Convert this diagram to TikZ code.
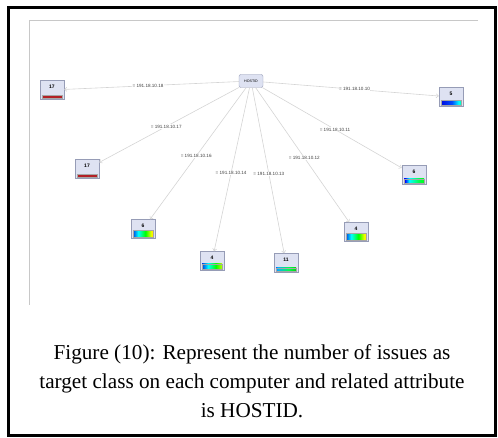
\documentclass[tikz,border=0pt]{standalone}
\usepackage{fontspec}
\setmainfont{Liberation Serif}
\newfontfamily\guifont{Liberation Sans}
\usetikzlibrary{arrows.meta}
\definecolor{boxfill}{RGB}{222,226,242}
\definecolor{boxline}{RGB}{150,156,182}
\definecolor{edgegray}{RGB}{212,212,212}
\definecolor{shotgray}{RGB}{200,200,200}
\definecolor{barred}{RGB}{178,32,38}
% colour bars of the leaf boxes
\pgfdeclarehorizontalshading{barred}{100bp}{color(0bp)=(barred); color(100bp)=(barred)}
\pgfdeclarehorizontalshading{barA}{100bp}{color(0bp)=(blue); color(25bp)=(blue!85!black); color(40bp)=(cyan); color(55bp)=(green); color(68bp)=(yellow); color(75bp)=(orange); color(100bp)=(orange)}
\pgfdeclarehorizontalshading{barB}{100bp}{color(0bp)=(blue); color(25bp)=(blue!85!black); color(42bp)=(cyan); color(58bp)=(green); color(75bp)=(yellow); color(100bp)=(yellow)}
\pgfdeclarehorizontalshading{barC}{100bp}{color(0bp)=(blue); color(25bp)=(blue); color(32bp)=(cyan!70!blue); color(55bp)=(green!70!cyan); color(75bp)=(green!80!black); color(100bp)=(green!80!black)}
\pgfdeclarehorizontalshading{barD}{100bp}{color(0bp)=(blue); color(25bp)=(blue); color(31bp)=(blue); color(40bp)=(cyan); color(60bp)=(green!70!cyan); color(75bp)=(green); color(100bp)=(green)}
\pgfdeclarehorizontalshading{barE}{100bp}{color(0bp)=(blue); color(25bp)=(blue!85!black); color(52bp)=(blue!70!cyan); color(66bp)=(cyan); color(75bp)=(green!60!cyan); color(100bp)=(green!60!cyan)}
\tikzset{
  rootbox/.style={draw=boxline, fill=boxfill, rounded corners=2pt, minimum width=24pt,
    minimum height=13pt, inner sep=1pt, font=\guifont\fontsize{3.6}{4}\selectfont},
  hostbox/.style 2 args={draw=boxline, fill=boxfill, minimum width=24pt, minimum height=19pt,
    inner xsep=1pt, inner ysep=1pt, text height=7pt, text depth=10pt,
    font=\guifont\bfseries\fontsize{5}{6}\selectfont,
    path picture={\shade[shading=#1, draw=gray!70, line width=0.3pt]
      ([xshift=2pt, yshift=1.5pt]path picture bounding box.south west) rectangle
      ([xshift=-2pt, yshift=1.5pt+#2]path picture bounding box.south east);}},
  elab/.style={fill=white, inner sep=0.4pt, text=black!75, font=\guifont\fontsize{4.6}{5}\selectfont},
  edge/.style={draw=edgegray, line width=0.6pt, -{Straight Barb[length=2.2pt, width=4pt]}}
}
\begin{document}
\begin{tikzpicture}[x=1pt, y=-1pt]
\useasboundingbox (0,0) rectangle (498,438);
% outer frame and screenshot edges
\draw[line width=3pt] (8.5,7.5) rectangle (495,435);
\draw[shotgray, line width=0.8pt] (478,20) -- (29,20) -- (29,305);
% tree: root and leaves
\node[rootbox] (host) at (251,81) {HOSTID};
\foreach \n/\x/\y/\num/\shd/\bh/\ip in {
    1/52/90/17/barred/2.5pt/18, 2/87/169/17/barred/2.5pt/17,
    3/143/229/6/barA/6.5pt/16, 4/212/261/4/barB/5pt/14,
    5/286/263/11/barC/3pt/13, 6/356/232/4/barA/6.5pt/12,
    7/414/175/6/barD/4pt/11, 8/451/97/5/barE/4.5pt/10} {
  \node[hostbox={\shd}{\bh}] (b\n) at (\x,\y) {\num};
  \draw[edge] (host) -- (b\n) node[elab, pos=.52] {= 191.18.10.\ip};
}
% caption
\node[align=center, font=\fontsize{21.2}{29}\selectfont] (caption) at (252,381)
  {Figure (10): Represent the number of issues as\\
   target class on each computer and related attribute\\
   is HOSTID.};
\end{tikzpicture}
\end{document}
